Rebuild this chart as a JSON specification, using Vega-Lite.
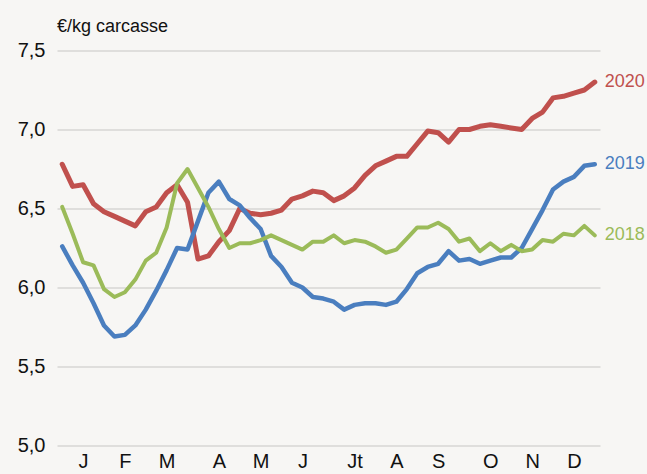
{
  "$schema": "https://vega.github.io/schema/vega-lite/v6.json",
  "autosize": {"type": "none"},
  "padding": {"left": 57, "top": 50.5, "right": 47, "bottom": 28.5},
  "width": 543,
  "height": 395,
  "background": "#f7f6f4",
  "title": {
    "text": "€/kg carcasse",
    "anchor": "start",
    "frame": "group",
    "font": "Liberation Sans",
    "fontSize": 18,
    "fontWeight": "normal",
    "color": "#111111",
    "offset": 5
  },
  "config": {
    "view": {"stroke": null},
    "font": "Liberation Sans"
  },
  "datasets": {
    "prices": [
      {"year": "2020", "week": 1, "price": 6.78}, {"year": "2020", "week": 2, "price": 6.64}, {"year": "2020", "week": 3, "price": 6.65}, {"year": "2020", "week": 4, "price": 6.53}, {"year": "2020", "week": 5, "price": 6.48}, {"year": "2020", "week": 6, "price": 6.45}, {"year": "2020", "week": 7, "price": 6.42}, {"year": "2020", "week": 8, "price": 6.39}, {"year": "2020", "week": 9, "price": 6.48}, {"year": "2020", "week": 10, "price": 6.51}, {"year": "2020", "week": 11, "price": 6.60}, {"year": "2020", "week": 12, "price": 6.65}, {"year": "2020", "week": 13, "price": 6.54}, {"year": "2020", "week": 14, "price": 6.18}, {"year": "2020", "week": 15, "price": 6.20}, {"year": "2020", "week": 16, "price": 6.29}, {"year": "2020", "week": 17, "price": 6.36}, {"year": "2020", "week": 18, "price": 6.50}, {"year": "2020", "week": 19, "price": 6.47}, {"year": "2020", "week": 20, "price": 6.46}, {"year": "2020", "week": 21, "price": 6.47}, {"year": "2020", "week": 22, "price": 6.49}, {"year": "2020", "week": 23, "price": 6.56}, {"year": "2020", "week": 24, "price": 6.58}, {"year": "2020", "week": 25, "price": 6.61}, {"year": "2020", "week": 26, "price": 6.60}, {"year": "2020", "week": 27, "price": 6.55}, {"year": "2020", "week": 28, "price": 6.58}, {"year": "2020", "week": 29, "price": 6.63}, {"year": "2020", "week": 30, "price": 6.71}, {"year": "2020", "week": 31, "price": 6.77}, {"year": "2020", "week": 32, "price": 6.80}, {"year": "2020", "week": 33, "price": 6.83}, {"year": "2020", "week": 34, "price": 6.83}, {"year": "2020", "week": 35, "price": 6.91}, {"year": "2020", "week": 36, "price": 6.99}, {"year": "2020", "week": 37, "price": 6.98}, {"year": "2020", "week": 38, "price": 6.92}, {"year": "2020", "week": 39, "price": 7.00}, {"year": "2020", "week": 40, "price": 7.00}, {"year": "2020", "week": 41, "price": 7.02}, {"year": "2020", "week": 42, "price": 7.03}, {"year": "2020", "week": 43, "price": 7.02}, {"year": "2020", "week": 44, "price": 7.01}, {"year": "2020", "week": 45, "price": 7.00}, {"year": "2020", "week": 46, "price": 7.07}, {"year": "2020", "week": 47, "price": 7.11}, {"year": "2020", "week": 48, "price": 7.20}, {"year": "2020", "week": 49, "price": 7.21}, {"year": "2020", "week": 50, "price": 7.23}, {"year": "2020", "week": 51, "price": 7.25}, {"year": "2020", "week": 52, "price": 7.30},
      {"year": "2019", "week": 1, "price": 6.26}, {"year": "2019", "week": 2, "price": 6.14}, {"year": "2019", "week": 3, "price": 6.03}, {"year": "2019", "week": 4, "price": 5.90}, {"year": "2019", "week": 5, "price": 5.76}, {"year": "2019", "week": 6, "price": 5.69}, {"year": "2019", "week": 7, "price": 5.70}, {"year": "2019", "week": 8, "price": 5.76}, {"year": "2019", "week": 9, "price": 5.86}, {"year": "2019", "week": 10, "price": 5.98}, {"year": "2019", "week": 11, "price": 6.11}, {"year": "2019", "week": 12, "price": 6.25}, {"year": "2019", "week": 13, "price": 6.24}, {"year": "2019", "week": 14, "price": 6.42}, {"year": "2019", "week": 15, "price": 6.60}, {"year": "2019", "week": 16, "price": 6.67}, {"year": "2019", "week": 17, "price": 6.56}, {"year": "2019", "week": 18, "price": 6.52}, {"year": "2019", "week": 19, "price": 6.44}, {"year": "2019", "week": 20, "price": 6.37}, {"year": "2019", "week": 21, "price": 6.20}, {"year": "2019", "week": 22, "price": 6.13}, {"year": "2019", "week": 23, "price": 6.03}, {"year": "2019", "week": 24, "price": 6.00}, {"year": "2019", "week": 25, "price": 5.94}, {"year": "2019", "week": 26, "price": 5.93}, {"year": "2019", "week": 27, "price": 5.91}, {"year": "2019", "week": 28, "price": 5.86}, {"year": "2019", "week": 29, "price": 5.89}, {"year": "2019", "week": 30, "price": 5.90}, {"year": "2019", "week": 31, "price": 5.90}, {"year": "2019", "week": 32, "price": 5.89}, {"year": "2019", "week": 33, "price": 5.91}, {"year": "2019", "week": 34, "price": 5.99}, {"year": "2019", "week": 35, "price": 6.09}, {"year": "2019", "week": 36, "price": 6.13}, {"year": "2019", "week": 37, "price": 6.15}, {"year": "2019", "week": 38, "price": 6.23}, {"year": "2019", "week": 39, "price": 6.17}, {"year": "2019", "week": 40, "price": 6.18}, {"year": "2019", "week": 41, "price": 6.15}, {"year": "2019", "week": 42, "price": 6.17}, {"year": "2019", "week": 43, "price": 6.19}, {"year": "2019", "week": 44, "price": 6.19}, {"year": "2019", "week": 45, "price": 6.25}, {"year": "2019", "week": 46, "price": 6.37}, {"year": "2019", "week": 47, "price": 6.49}, {"year": "2019", "week": 48, "price": 6.62}, {"year": "2019", "week": 49, "price": 6.67}, {"year": "2019", "week": 50, "price": 6.70}, {"year": "2019", "week": 51, "price": 6.77}, {"year": "2019", "week": 52, "price": 6.78},
      {"year": "2018", "week": 1, "price": 6.51}, {"year": "2018", "week": 2, "price": 6.34}, {"year": "2018", "week": 3, "price": 6.16}, {"year": "2018", "week": 4, "price": 6.14}, {"year": "2018", "week": 5, "price": 5.99}, {"year": "2018", "week": 6, "price": 5.94}, {"year": "2018", "week": 7, "price": 5.97}, {"year": "2018", "week": 8, "price": 6.05}, {"year": "2018", "week": 9, "price": 6.17}, {"year": "2018", "week": 10, "price": 6.22}, {"year": "2018", "week": 11, "price": 6.38}, {"year": "2018", "week": 12, "price": 6.66}, {"year": "2018", "week": 13, "price": 6.75}, {"year": "2018", "week": 14, "price": 6.63}, {"year": "2018", "week": 15, "price": 6.51}, {"year": "2018", "week": 16, "price": 6.37}, {"year": "2018", "week": 17, "price": 6.25}, {"year": "2018", "week": 18, "price": 6.28}, {"year": "2018", "week": 19, "price": 6.28}, {"year": "2018", "week": 20, "price": 6.30}, {"year": "2018", "week": 21, "price": 6.33}, {"year": "2018", "week": 22, "price": 6.30}, {"year": "2018", "week": 23, "price": 6.27}, {"year": "2018", "week": 24, "price": 6.24}, {"year": "2018", "week": 25, "price": 6.29}, {"year": "2018", "week": 26, "price": 6.29}, {"year": "2018", "week": 27, "price": 6.33}, {"year": "2018", "week": 28, "price": 6.28}, {"year": "2018", "week": 29, "price": 6.30}, {"year": "2018", "week": 30, "price": 6.29}, {"year": "2018", "week": 31, "price": 6.26}, {"year": "2018", "week": 32, "price": 6.22}, {"year": "2018", "week": 33, "price": 6.24}, {"year": "2018", "week": 34, "price": 6.31}, {"year": "2018", "week": 35, "price": 6.38}, {"year": "2018", "week": 36, "price": 6.38}, {"year": "2018", "week": 37, "price": 6.41}, {"year": "2018", "week": 38, "price": 6.37}, {"year": "2018", "week": 39, "price": 6.29}, {"year": "2018", "week": 40, "price": 6.31}, {"year": "2018", "week": 41, "price": 6.23}, {"year": "2018", "week": 42, "price": 6.28}, {"year": "2018", "week": 43, "price": 6.23}, {"year": "2018", "week": 44, "price": 6.27}, {"year": "2018", "week": 45, "price": 6.23}, {"year": "2018", "week": 46, "price": 6.24}, {"year": "2018", "week": 47, "price": 6.30}, {"year": "2018", "week": 48, "price": 6.29}, {"year": "2018", "week": 49, "price": 6.34}, {"year": "2018", "week": 50, "price": 6.33}, {"year": "2018", "week": 51, "price": 6.39}, {"year": "2018", "week": 52, "price": 6.33}
    ]
  },
  "data": {"name": "prices"},
  "encoding": {
    "x": {
      "field": "week",
      "type": "quantitative",
      "scale": {"domain": [0.5, 52.5], "nice": false, "zero": false},
      "axis": {
        "title": null,
        "grid": false,
        "domain": false,
        "ticks": false,
        "values": [3, 7, 11, 16, 20, 24, 29, 33, 37, 42, 46, 50],
        "labelExpr": "{'3':'J','7':'F','11':'M','16':'A','20':'M','24':'J','29':'Jt','33':'A','37':'S','42':'O','46':'N','50':'D'}[datum.value + '']",
        "labelFont": "Liberation Sans",
        "labelFontSize": 20,
        "labelColor": "#111111",
        "labelPadding": 6,
        "labelFlush": false,
        "labelOverlap": false
      }
    },
    "y": {
      "field": "price",
      "type": "quantitative",
      "scale": {"domain": [5, 7.5], "nice": false, "zero": false},
      "axis": {
        "title": null,
        "values": [5, 5.5, 6, 6.5, 7, 7.5],
        "labelExpr": "replace(format(datum.value, '.1f'), '.', ',')",
        "labelFont": "Liberation Sans",
        "labelFontSize": 20,
        "labelColor": "#111111",
        "labelPadding": 12,
        "ticks": false,
        "domain": false,
        "grid": true,
        "gridColor": "#dfdedc",
        "gridWidth": 2
      }
    }
  },
  "layer": [
    {
      "mark": {"type": "line", "strokeCap": "round", "strokeJoin": "round"},
      "encoding": {
        "color": {
          "field": "year",
          "type": "nominal",
          "scale": {"domain": ["2020", "2019", "2018"], "range": ["#c0504d", "#4a7ebf", "#9bbb59"]},
          "legend": null
        },
        "strokeWidth": {
          "field": "year",
          "type": "nominal",
          "scale": {"domain": ["2020", "2019", "2018"], "range": [5, 4, 2.5]},
          "legend": null
        },
        "order": {"field": "week", "type": "quantitative"}
      }
    },
    {
      "transform": [{"filter": "datum.week == 52"}],
      "mark": {"type": "text", "align": "left", "baseline": "middle", "dx": 10, "fontSize": 18, "font": "Liberation Sans"},
      "encoding": {
        "text": {"field": "year", "type": "nominal"},
        "color": {
          "field": "year",
          "type": "nominal",
          "scale": {"domain": ["2020", "2019", "2018"], "range": ["#c0504d", "#3f68b0", "#9bbb59"]},
          "legend": null
        },
        "yOffset": {"condition": {"test": "datum.year == '2020'", "value": -6}, "value": 0}
      }
    }
  ]
}
